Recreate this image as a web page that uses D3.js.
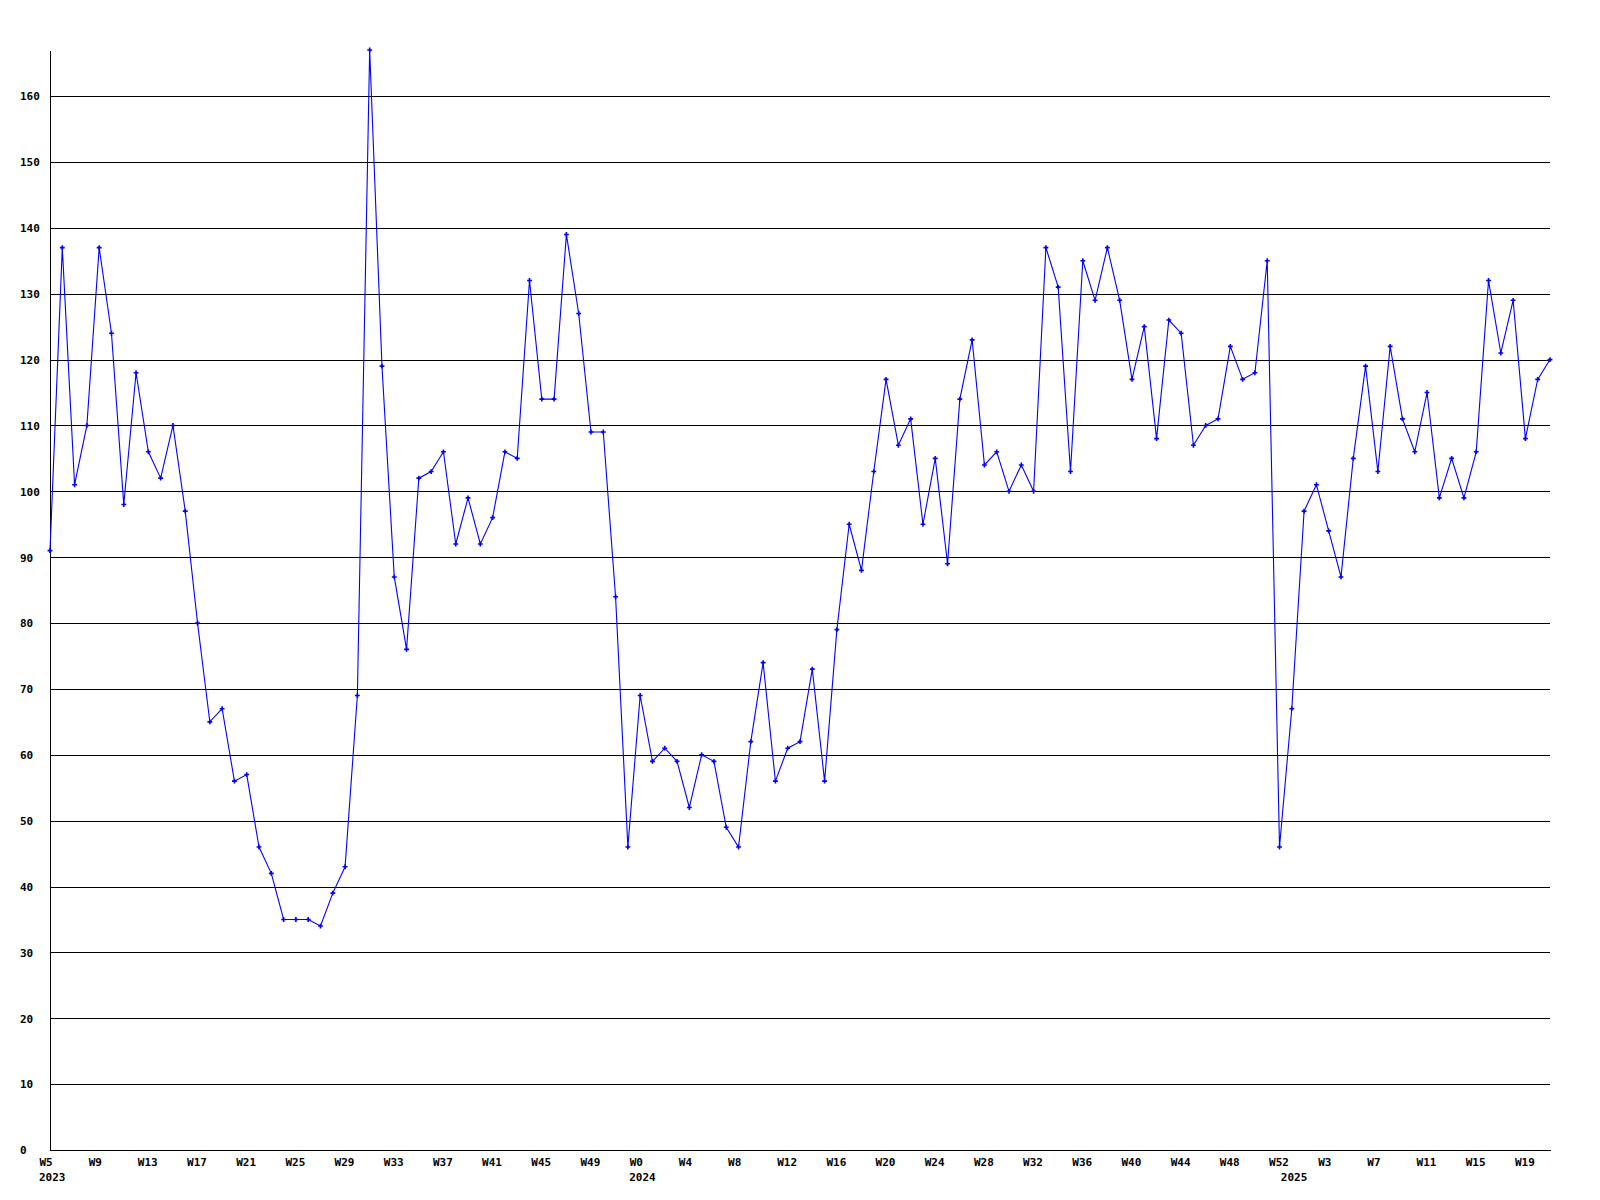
<!DOCTYPE html>
<html>
<head>
<meta charset="utf-8">
<script src="https://cdn.jsdelivr.net/npm/d3@7"></script>
<style>
  html, body { margin: 0; padding: 0; background: #ffffff; }
  svg { display: block; }
  text { font-family: "DejaVu Sans Mono", "Liberation Mono", monospace; font-weight: bold; font-size: 11px; fill: #000; }
</style>
</head>
<body>
<svg id="chart" width="1600" height="1200"></svg>
<script>
// ---- data ----
const years = [2023, 2024, 2025];
const yearFirstWeek = [5, 0, 0];
const yearLastWeek = [52, 52, 21];

const values = [
  91,137,101,110,137,124,98,118,106,102,
  110,97,80,65,67,56,57,46,42,35,
  35,35,34,39,43,69,167,119,87,76,
  102,103,106,92,99,92,96,106,105,132,
  114,114,139,127,109,109,84,46,69,59,
  61,59,52,60,59,49,46,62,74,56,
  61,62,73,56,79,95,88,103,117,107,
  111,95,105,89,114,123,104,106,100,104,
  100,137,131,103,135,129,137,129,117,125,
  108,126,124,107,110,111,122,117,118,135,
  46,67,97,101,94,87,105,119,103,122,
  111,106,115,99,105,99,106,132,121,129,
  108,117,120
];

const yTickValues = [0,10,20,30,40,50,60,70,80,90,100,110,120,130,140,150,160];

// categories (one per weekly point)
const categories = [];
years.forEach((yr, i) => {
  for (let w = yearFirstWeek[i]; w <= yearLastWeek[i]; w++) categories.push({ year: yr, week: "W" + w });
});

// ---- layout ----
const svg = d3.select("#chart");
const mLeft = 50, mRight = 1550, mTop = 50, mBottom = 1150;

const x = d3.scaleLinear().domain([0, values.length - 1]).range([mLeft, mRight]);
const y = d3.scaleLinear().domain([0, d3.max(values)]).range([mBottom, mTop]);

// y axis with gridlines
const yAxis = svg.append("g")
  .attr("transform", `translate(${mLeft},0)`)
  .call(d3.axisLeft(y).tickValues(yTickValues).tickFormat(d3.format("d")).tickSize(-(mRight - mLeft)).tickSizeOuter(0));
yAxis.selectAll("path.domain").attr("stroke", "#000").attr("stroke-width", 1).attr("shape-rendering", "crispEdges");
yAxis.selectAll(".tick line").attr("stroke", "#000").attr("stroke-width", 1).attr("shape-rendering", "crispEdges");
yAxis.selectAll(".tick text")
  .attr("x", 20 - mLeft)
  .attr("dy", "0.35em")
  .attr("text-anchor", "start")
  .style("font-family", "'DejaVu Sans Mono', monospace")
  .style("font-weight", "bold")
  .style("font-size", "11px")
  .attr("fill", "#000");

// x axis
const tickIdx = d3.range(0, values.length, 4);
const xAxis = svg.append("g")
  .attr("transform", `translate(0,${mBottom})`)
  .call(d3.axisBottom(x).tickValues(tickIdx).tickFormat(i => categories[i].week).tickSize(0).tickSizeOuter(0));
xAxis.selectAll("path.domain").attr("stroke", "#000").attr("stroke-width", 1).attr("shape-rendering", "crispEdges");
xAxis.selectAll(".tick text")
  .attr("x", -11)
  .attr("y", 12)
  .attr("dy", "0.35em")
  .attr("text-anchor", "start")
  .style("font-family", "'DejaVu Sans Mono', monospace")
  .style("font-weight", "bold")
  .style("font-size", "11px")
  .attr("fill", "#000");

// year labels at first point of each year
const yearStarts = years.map(yr => categories.findIndex(c => c.year === yr));
svg.append("g").selectAll("text.year")
  .data(yearStarts)
  .join("text")
  .attr("class", "year")
  .attr("x", i => x(i) - 11)
  .attr("y", mBottom + 27)
  .attr("dy", "0.35em")
  .attr("text-anchor", "start")
  .text((i, k) => years[k]);

// line
const line = d3.line().x((d, i) => x(i)).y(d => y(d));
svg.append("path")
  .datum(values)
  .attr("fill", "none")
  .attr("stroke", "#0000ff")
  .attr("stroke-width", 1.1)
  .attr("d", line);

// markers
const cross = d3.symbol().type(d3.symbolCross).size(13);
svg.append("g").selectAll("path.pt")
  .data(values)
  .join("path")
  .attr("class", "pt")
  .attr("transform", (d, i) => `translate(${x(i)},${y(d)})`)
  .attr("d", cross)
  .attr("fill", "#0000ff");
</script>
</body>
</html>
